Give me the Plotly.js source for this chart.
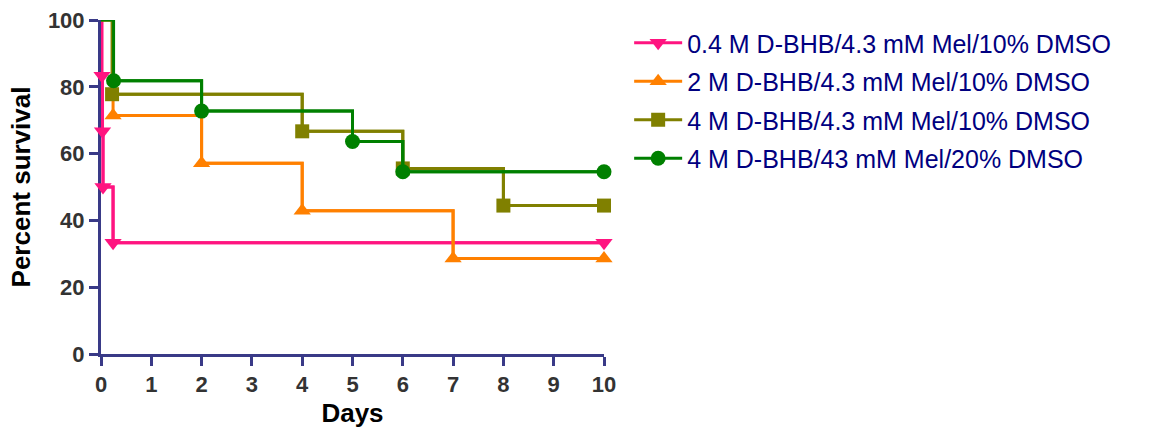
<!DOCTYPE html>
<html>
<head>
<meta charset="utf-8">
<script src="https://cdn.plot.ly/plotly-3.0.1.min.js"></script>
<style>
  html, body { margin: 0; padding: 0; background: #ffffff; }
  #chart { width: 1170px; height: 436px; }
</style>
</head>
<body>
<div id="chart"></div>
<script>
// Kaplan-Meier survival curves (percent survival vs days)
const groupNames = [
  '0.4 M D-BHB/4.3 mM Mel/10% DMSO',
  '2 M D-BHB/4.3 mM Mel/10% DMSO',
  '4 M D-BHB/4.3 mM Mel/10% DMSO',
  '4 M D-BHB/43 mM Mel/20% DMSO'
];

const daysA = [0, 0.02, 0.03, 0.04, 0.24, 10];
const survA = [100, 83.33, 66.67, 50, 33.33, 33.33];

const daysB = [0, 0.24, 2, 4, 7, 10];
const survB = [100, 71.43, 57.14, 42.86, 28.57, 28.57];

const daysC = [0, 0.22, 4, 6, 8, 10];
const survC = [100, 77.78, 66.67, 55.56, 44.44, 44.44];

const daysD = [0, 0.25, 2, 5, 6, 10];
const survD = [100, 81.82, 72.73, 63.64, 54.55, 54.55];

const colors = ['#FF1480', '#FF8000', '#808000', '#008000'];
const symbols = ['triangle-down', 'triangle-up', 'square', 'circle'];
const markerSizes = [15, 15, 14, 15];

const series = [
  [daysA, survA], [daysB, survB], [daysC, survC], [daysD, survD]
];

const traces = [];
series.forEach(([days, surv], i) => {
  // full step curve from the start point
  traces.push({
    x: days, y: surv, type: 'scatter', mode: 'lines',
    line: { shape: 'hv', color: colors[i], width: 3 },
    legendgroup: 'g' + i, showlegend: false, hoverinfo: 'skip',
    cliponaxis: false
  });
  // event points with markers (also supplies the legend entry)
  traces.push({
    x: days.slice(1), y: surv.slice(1), type: 'scatter', mode: 'lines+markers',
    name: groupNames[i],
    line: { shape: 'hv', color: colors[i], width: 3 },
    marker: { symbol: symbols[i], size: markerSizes[i], color: colors[i] },
    legendgroup: 'g' + i,
    cliponaxis: false
  });
});

const axisColor = '#393A87';
const tickFont = { family: 'Liberation Sans, Arial, sans-serif', size: 22, color: '#333333', weight: 'bold' };
const titleFont = { family: 'Liberation Sans, Arial, sans-serif', size: 26, color: '#000000', weight: 'bold' };

const layout = {
  width: 1170, height: 436,
  margin: { l: 101, r: 566, t: 20, b: 82 },
  paper_bgcolor: '#ffffff', plot_bgcolor: '#ffffff',
  showlegend: true,
  xaxis: {
    range: [0, 10], tickvals: [0,1,2,3,4,5,6,7,8,9,10],
    showgrid: false, zeroline: false, layer: 'below traces',
    showline: true, linecolor: axisColor, linewidth: 3,
    ticks: 'outside', ticklen: 9, tickwidth: 3, tickcolor: axisColor,
    tickfont: tickFont,
    title: { text: 'Days', font: titleFont, standoff: 8 }
  },
  yaxis: {
    range: [0, 100], tickvals: [0, 20, 40, 60, 80, 100],
    showgrid: false, zeroline: false, layer: 'below traces',
    showline: true, linecolor: axisColor, linewidth: 3,
    ticks: 'outside', ticklen: 9, tickwidth: 3, tickcolor: axisColor,
    tickfont: tickFont,
    title: { text: 'Percent survival', font: titleFont, standoff: 10 }
  },
  legend: {
    x: 1.05, xanchor: 'left', y: 1.0, yanchor: 'top',
    font: { family: 'Liberation Sans, Arial, sans-serif', size: 25, color: '#000080' },
    itemwidth: 48,
    tracegroupgap: 3,
    bgcolor: 'rgba(0,0,0,0)'
  }
};

Plotly.newPlot('chart', traces, layout, { displayModeBar: false, staticPlot: true });
</script>
</body>
</html>
